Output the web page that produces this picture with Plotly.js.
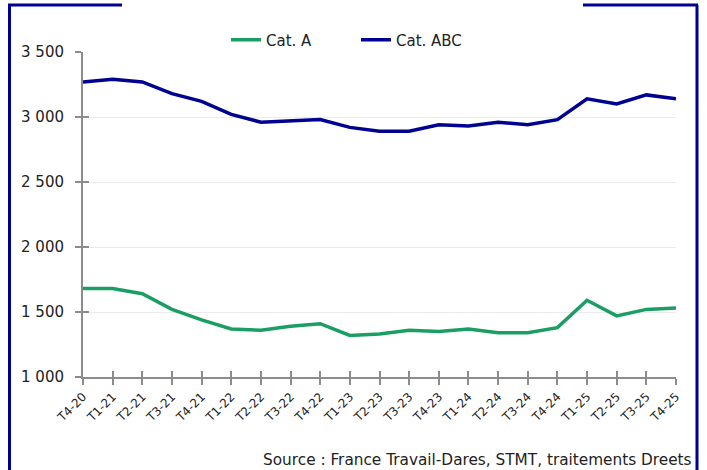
<!DOCTYPE html>
<html><head><meta charset="utf-8">
<script src="https://cdn.plot.ly/plotly-3.0.1.min.js"></script>
<style>html,body{margin:0;padding:0;background:#fff;}#c{width:707px;height:470px;}</style>
</head><body><div id="c"></div>
<script>
const categories = ["T4-20","T1-21","T2-21","T3-21","T4-21","T1-22","T2-22","T3-22","T4-22","T1-23","T2-23","T3-23","T4-23","T1-24","T2-24","T3-24","T4-24","T1-25","T2-25","T3-25","T4-25"];
const catA = [1680,1680,1640,1520,1440,1370,1360,1390,1410,1320,1330,1360,1350,1370,1340,1340,1380,1590,1470,1520,1530];
const catABC = [3270,3290,3270,3180,3120,3020,2960,2970,2980,2920,2890,2890,2940,2930,2960,2940,2980,3140,3100,3170,3140];
const yTicks = [1000,1500,2000,2500,3000,3500];

const W=707,H=470,L=83,R=31,T=52,B=93;
const pw=W-L-R, ph=H-T-B;
const px=x=>(x-L)/pw, py=y=>(H-B-y)/ph;
const navy="#000091", green="#1B9E64";
const fnt="DejaVu Sans, sans-serif";

const traces=[
 {x:categories,y:catA,name:"Cat. A",type:"scatter",mode:"lines",line:{color:green,width:3.5}},
 {x:categories,y:catABC,name:"Cat. ABC",type:"scatter",mode:"lines",line:{color:navy,width:3.5}},
 {x:categories,y:catABC,xaxis:"x2",yaxis:"y2",type:"scatter",mode:"lines",line:{width:0,color:"rgba(0,0,0,0)"},showlegend:false,hoverinfo:"skip"}
];
const frame=(x0,y0,x1,y1)=>({type:"line",xref:"paper",yref:"paper",x0:px(x0),y0:py(y0),x1:px(x1),y1:py(y1),line:{color:navy,width:3}});
const layout={
 width:W,height:H,margin:{l:L,r:R,t:T,b:B},
 paper_bgcolor:"#fff",plot_bgcolor:"#fff",
 separators:", ",
 font:{family:fnt,color:"#222"},
 showlegend:true,
 legend:{orientation:"h",x:px(226),xanchor:"left",y:py(40),yanchor:"middle",entrywidth:85,entrywidthmode:"pixels",font:{size:15,color:"#222",family:fnt},bgcolor:"rgba(0,0,0,0)"},
 xaxis:{type:"category",range:[0,categories.length-1],showline:true,linecolor:"#8c8c8c",linewidth:2,ticks:"outside",ticklen:6,tickwidth:2,tickcolor:"#8c8c8c",tickangle:-45,tickfont:{size:12,color:"#222",family:fnt},showgrid:false,zeroline:false,fixedrange:true},
 yaxis:{range:[1000,3500],tickvals:yTicks,tickformat:",d",showline:true,linecolor:"#8c8c8c",linewidth:2,ticks:"outside",ticklen:6,tickwidth:2,tickcolor:"#8c8c8c",tickfont:{size:15,color:"#222",family:fnt},ticklabelstandoff:8,showgrid:true,gridcolor:"#ebebeb",gridwidth:1,zeroline:false},
 xaxis2:{type:"category",overlaying:"x",matches:"x",showline:false,ticks:"inside",ticklen:6,tickwidth:2,tickcolor:"#8c8c8c",showticklabels:false,showgrid:false,zeroline:false},
 yaxis2:{overlaying:"y",matches:"y",range:[1000,3500],tickvals:yTicks,showline:false,ticks:"inside",ticklen:6,tickwidth:2,tickcolor:"#8c8c8c",showticklabels:false,showgrid:false,zeroline:false},
 shapes:[
  frame(9.5,5,9.5,475),
  frame(8,5,122,5),
  frame(583,5,698,5),
  frame(697,5,697,475)
 ],
 annotations:[
  {xref:"paper",yref:"paper",x:px(694),y:py(460),xanchor:"right",yanchor:"middle",text:"Source : France Travail-Dares, STMT, traitements Dreets",showarrow:false,font:{size:15.3,color:"#222",family:fnt}}
 ]
};
Plotly.newPlot("c",traces,layout,{displayModeBar:false,staticPlot:true});
</script></body></html>
